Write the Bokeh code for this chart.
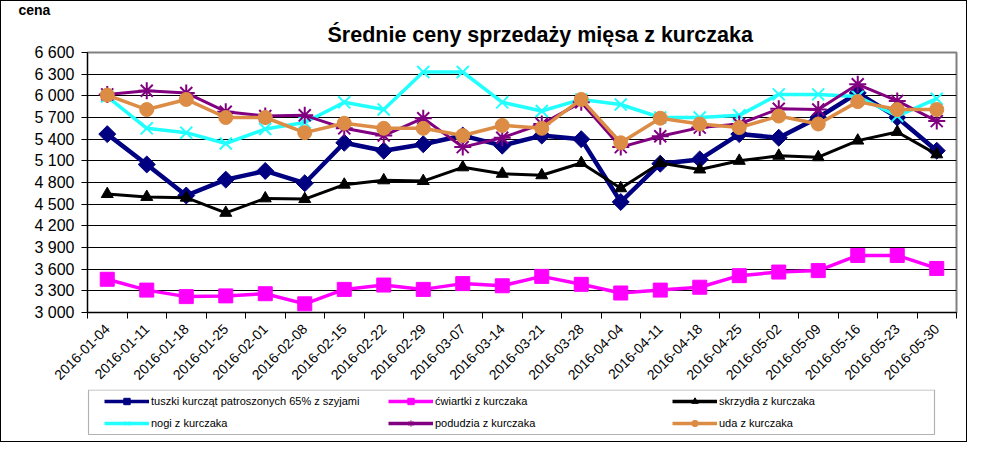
import numpy as np
from bokeh.plotting import figure
from bokeh.layouts import column
from bokeh.models import (Range1d, FixedTicker, Legend, LegendItem, Title,
                          ColumnDataSource, BoxAnnotation)
from bokeh.embed import file_html
from bokeh.resources import INLINE

dates = ["2016-01-04", "2016-01-11", "2016-01-18", "2016-01-25", "2016-02-01",
         "2016-02-08", "2016-02-15", "2016-02-22", "2016-02-29", "2016-03-07",
         "2016-03-14", "2016-03-21", "2016-03-28", "2016-04-04", "2016-04-11",
         "2016-04-18", "2016-04-25", "2016-05-02", "2016-05-09", "2016-05-16",
         "2016-05-23", "2016-05-30"]

tuszki = [5470, 5050, 4620, 4840, 4960, 4790, 5350, 5240, 5330, 5450, 5310,
          5450, 5400, 4530, 5060, 5120, 5470, 5420, 5700, 6040, 5700, 5240]
cwiartki = [3460, 3310, 3220, 3230, 3260, 3120, 3320, 3380, 3320, 3400, 3370,
            3500, 3390, 3270, 3310, 3350, 3510, 3560, 3580, 3790, 3790, 3610]
skrzydla = [4640, 4600, 4590, 4380, 4580, 4570, 4770, 4830, 4820, 5010, 4920,
            4900, 5070, 4720, 5070, 4980, 5100, 5170, 5150, 5380, 5500, 5190]
nogi = [5990, 5550, 5490, 5340, 5540, 5630, 5910, 5810, 6330, 6330, 5910,
        5790, 5950, 5880, 5700, 5700, 5730, 6020, 6020, 5990, 5720, 5960]
podudzia = [6020, 6070, 6040, 5780, 5720, 5730, 5550, 5450, 5690, 5290, 5420,
            5610, 5910, 5290, 5440, 5560, 5610, 5820, 5810, 6160, 5930, 5650]
uda = [6010, 5810, 5950, 5700, 5700, 5490, 5620, 5550, 5550, 5450, 5590,
       5550, 5950, 5350, 5690, 5610, 5560, 5720, 5610, 5920, 5810, 5810]

series_names = ["tuszki kurcząt patroszonych 65% z szyjami", "ćwiartki z kurczaka",
                "skrzydła z kurczaka", "nogi z kurczaka", "podudzia z kurczaka",
                "uda z kurczaka"]
y_ticks = list(range(3000, 6601, 300))

FONT = "Liberation Sans"

W = 965
H1, H2 = 388, 52          # main chart / legend strip
FL, FR, FT, FB = 86, 955, 49, 311  # frame edges in canvas px

p = figure(width=W, height=H1, output_backend="svg", toolbar_location=None,
           x_range=Range1d(-0.5, len(dates) - 0.5), y_range=Range1d(3000, 6600),
           min_border_left=FL, min_border_right=W - FR,
           min_border_top=FT, min_border_bottom=H1 - FB)
p.outline_line_color = "#808080"
p.outline_line_width = 2
p.background_fill_color = "white"

# "cena" caption (outermost title)
p.title.text = "cena"
p.title.align = "left"
p.title.offset = 17 - FL
p.title.text_font = FONT
p.title.text_font_size = "14px"
p.title.text_font_style = "bold"
p.title.text_color = "black"
p.title.standoff = -4

# main title, nearest the frame
p.add_layout(Title(text="Średnie ceny sprzedaży mięsa z kurczaka", align="left",
                   offset=326 - FL, text_font=FONT, text_font_size="21.5px",
                   text_font_style="bold", text_color="black", standoff=11), "above")

# grid
p.xgrid.visible = False
p.ygrid.grid_line_color = "black"
p.ygrid.grid_line_width = 1

# y axis
ya = p.yaxis[0]
ya.ticker = FixedTicker(ticks=y_ticks)
ya.major_label_overrides = {t: f"{t:,}".replace(",", " ") for t in y_ticks}
ya.major_label_text_font = FONT
ya.major_label_text_font_size = "16px"
ya.major_label_text_color = "black"
ya.major_tick_in = 0
ya.major_tick_out = 6
ya.minor_tick_line_color = None
ya.axis_line_color = "black"
ya.major_tick_line_color = "black"
ya.major_label_standoff = 7

# x axis
xa = p.xaxis[0]
idx = list(range(len(dates)))
xa.ticker = FixedTicker(ticks=idx, minor_ticks=[i - 0.5 for i in range(len(dates) + 1)])
xa.major_label_overrides = {i: d for i, d in zip(idx, dates)}
xa.major_label_orientation = np.pi / 4
xa.major_label_text_font = FONT
xa.major_label_text_font_size = "14px"
xa.major_label_text_color = "black"
xa.major_tick_in = 0
xa.major_tick_out = 0
xa.minor_tick_in = 0
xa.minor_tick_out = 6
xa.minor_tick_line_color = "black"
xa.axis_line_color = "black"
xa.major_label_standoff = 8

styles = [
    dict(color="#000080", lw=4.5, marker="square", size=12, angle=np.pi / 4, line=1),
    dict(color="#FF00FF", lw=3.5, marker="square", size=14, angle=0, line=1),
    dict(color="#000000", lw=3, marker="triangle", size=12, angle=0, line=1),
    dict(color="#22FFFF", lw=3.5, marker="x", size=17, angle=0, line=2),
    dict(color="#800080", lw=3, marker="asterisk", size=17, angle=0, line=2),
    dict(color="#DC8C45", lw=3.5, marker="circle", size=14, angle=0, line=1),
]
values = [tuszki, cwiartki, skrzydla, nogi, podudzia, uda]

for vals, st in zip(values, styles):
    src = ColumnDataSource(dict(x=idx, y=vals))
    p.line("x", "y", source=src, line_color=st["color"], line_width=st["lw"])
    p.scatter("x", "y", source=src, marker=st["marker"], size=st["size"],
              angle=st["angle"], fill_color=st["color"], line_color=st["color"],
              line_width=st["line"])

# legend strip (separate figure; its frame is aligned with the main frame)
lf = figure(width=W, height=H2, output_backend="svg", toolbar_location=None,
            x_range=Range1d(-0.5, len(dates) - 0.5), y_range=Range1d(0, 1),
            x_axis_type=None, y_axis_type=None,
            min_border_left=FL, min_border_right=W - FR,
            min_border_top=0, min_border_bottom=0)
lf.outline_line_color = None
lf.xgrid.visible = False
lf.ygrid.visible = False
lf.title.visible = False

items = []
for name, vals, st in zip(series_names, values, styles):
    # same series, lying outside this strip's y range, so only the legend shows
    lsrc = ColumnDataSource(dict(x=idx, y=vals))
    r1 = lf.line("x", "y", source=lsrc, line_color=st["color"], line_width=3.5)
    r2 = lf.scatter("x", "y", source=lsrc, marker=st["marker"], size=st["size"],
                    angle=st["angle"], fill_color=st["color"], line_color=st["color"],
                    line_width=1)
    items.append(LegendItem(label=name, renderers=[r1, r2]))

legend = Legend(items=items, orientation="horizontal", ncols=3,
                location=(103 - FL, 10),
                glyph_width=45, glyph_height=16, label_height=16,
                label_standoff=2, spacing=6, label_width=231,
                padding=0, margin=0,
                border_line_alpha=0, background_fill_alpha=0,
                label_text_font=FONT, label_text_font_size="11px",
                label_text_color="black")
lf.add_layout(legend, "center")
lf.add_layout(BoxAnnotation(left=1, right=933 - FL, top=H2 - 0.5, bottom=H2 - 45,
                            left_units="screen", right_units="screen",
                            top_units="screen", bottom_units="screen",
                            fill_alpha=0, line_color="black", line_width=1.2))

layout = column(p, lf, spacing=0,
                styles={"border": "1px solid black", "box-sizing": "border-box"})

open("out.html", "w").write(file_html(layout, INLINE))
